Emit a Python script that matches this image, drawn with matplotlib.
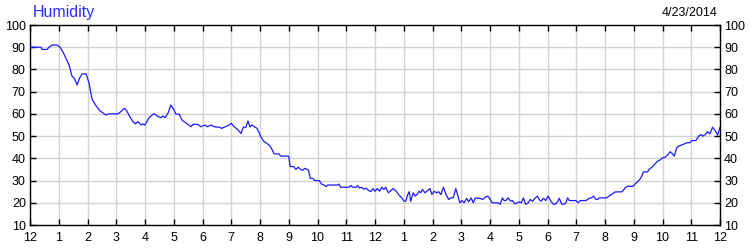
import matplotlib
matplotlib.use("Agg")
import matplotlib.pyplot as plt

# Hours since midnight and relative humidity (%)
hours = [0.0, 0.38, 0.42, 0.6, 0.66, 0.78, 0.93, 1.05, 1.16, 1.25, 1.36, 1.46, 1.54, 1.64, 1.72,
         1.81, 1.95, 2.05, 2.16, 2.28, 2.42, 2.64, 2.75, 3.05, 3.16, 3.28, 3.36, 3.46, 3.58, 3.67,
         3.75, 3.87, 3.93, 4.0,
         4.14, 4.31, 4.43, 4.55, 4.63, 4.7, 4.81, 4.9, 5.0, 5.07, 5.19, 5.3, 5.42, 5.6, 5.67,
         5.83, 5.94, 6.09, 6.17, 6.31, 6.4, 6.58, 6.67, 6.79, 6.93, 7.0, 7.08, 7.22, 7.34, 7.42,
         7.51, 7.58, 7.65, 7.72, 7.8, 7.9, 8.02,
         8.12, 8.24, 8.35, 8.43, 8.49, 8.66, 8.72, 9.0, 9.05, 9.17, 9.25, 9.33, 9.42, 9.48, 9.55,
         9.64, 9.68, 9.75, 9.83, 9.9, 10.06, 10.14, 10.23, 10.3, 10.36, 10.7, 10.75, 10.8, 11.1,
         11.16, 11.22, 11.34, 11.4, 11.46, 11.54, 11.6, 11.69, 11.75, 11.85, 11.93, 12.0,
         12.08, 12.16, 12.23, 12.31, 12.37, 12.47, 12.55, 12.63, 12.74, 12.84, 12.93, 13.01,
         13.07, 13.13, 13.19, 13.24, 13.33, 13.4, 13.48, 13.53, 13.59, 13.65, 13.74, 13.83,
         13.91, 13.98, 14.06, 14.14, 14.21, 14.29, 14.38, 14.47, 14.56, 14.64, 14.72, 14.81,
         14.87, 14.95, 15.02, 15.1, 15.19, 15.26, 15.34, 15.42, 15.49, 15.57, 15.65, 15.74,
         15.84, 15.92, 15.98, 16.07,
         16.15, 16.28, 16.35, 16.43, 16.49, 16.55, 16.63, 16.72, 16.78, 16.86, 16.95, 17.01,
         17.09, 17.16, 17.24, 17.33, 17.4, 17.48, 17.56, 17.65, 17.71, 17.77, 17.86, 17.94,
         18.02, 18.12, 18.21, 18.29, 18.37, 18.41, 18.49, 18.56, 18.64, 18.7, 18.76, 18.99,
         19.07, 19.14, 19.34, 19.45, 19.53, 19.6, 19.69, 19.74, 19.8, 19.98,
         20.05, 20.14, 20.26, 20.35, 20.58, 20.63, 20.7, 20.78, 20.98, 21.05, 21.13, 21.21,
         21.28, 21.33, 21.48, 21.53, 21.63, 21.67, 21.74, 21.83, 21.91, 21.98, 22.09, 22.17,
         22.27, 22.35, 22.41, 22.49, 22.56, 22.67, 22.76, 22.84, 22.95, 23.02, 23.16, 23.26,
         23.34, 23.4, 23.49, 23.57, 23.65, 23.74, 23.8, 23.86, 23.92, 24.0]

humidity = [90, 90, 89, 89, 90, 91, 91, 90, 87.5, 85, 82, 77, 76, 73, 76,
            78, 78, 74, 66.5, 64, 61.5, 59.5, 60, 60, 61, 62.5, 61.5, 59, 56.5, 55.5,
            56.5, 55, 55.5, 55,
            58.3, 60.1, 59, 58.3, 59, 58.3, 60.6, 64, 62, 60, 59.8, 57, 56, 54.2, 55.3,
            55.3, 54.2, 55, 54.2, 55, 54.2, 54, 53.5, 54.2, 55, 55.8, 54.5, 53, 51.2, 54,
            54, 56.8, 54.2, 55, 54.2, 53.5, 50,
            47.8, 46.7, 45.5, 43.7, 42, 42, 41, 41, 36.3, 36.3, 35, 36, 35, 34.5, 35.5,
            35, 34.8, 31, 31, 30, 30, 28.4, 28, 27.3, 28, 28, 28.4, 27, 27,
            27.8, 27, 27, 27.8, 26.6, 27, 26.1, 26.6, 25.8, 25, 26.4, 25.2,
            26.4, 25.2, 27, 26, 27, 24.5, 25.5, 26.4, 25.2, 23.4, 22.2, 20.7,
            20.7, 23.4, 25, 20.7, 24.5, 23, 24, 25.2, 24.5, 26, 24.5, 25.5,
            26.4, 23.7, 25.2, 24.5, 25, 23.7, 27, 23.7, 21.5, 22.2, 22.2, 26.4,
            23.7, 20, 21, 20, 22, 20.4, 22.2, 20, 22.2, 22, 22, 21.5,
            22.5, 23, 22.2, 20,
            20, 20, 19.3, 22.2, 21, 21, 22.2, 20.7, 21, 19.5, 20, 20.4,
            20, 22.2, 19.3, 20, 21.5, 20.7, 22, 23, 21.5, 20.7, 22, 21,
            23, 20.7, 19.3, 19.5, 21, 22, 19.5, 19.3, 20, 22.2, 21, 21,
            20, 21, 21, 22, 22.2, 23, 21.5, 21.5, 22.2, 22.2,
            22.2, 23, 24, 24.9, 24.9, 25.5, 26.7, 27.4, 27.4, 28.5, 29.4, 30.5,
            32, 33.9, 33.9, 35, 36, 36.5, 37.5, 38.7, 39.2, 40, 40.5, 41.4,
            43, 42, 41, 44.7, 45.5, 46, 46.5, 47, 47, 48, 48, 50,
            50.7, 50, 50.7, 52, 51, 54, 53, 52, 50.4, 54]

x_ticks = list(range(0, 25))
x_labels = ["12"] + [str(h) for h in range(1, 12)] + ["12"] + [str(h) for h in range(1, 12)] + ["12"]
y_ticks = [10, 20, 30, 40, 50, 60, 70, 80, 90, 100]

title = "Humidity"
date_label = "4/23/2014"

plt.rcParams['font.family'] = ['Liberation Sans', 'DejaVu Sans']

fig = plt.figure(figsize=(7.5, 2.5), dpi=100)
ax = fig.add_axes([30 / 750, 25 / 250, 690 / 750, 200 / 250])

ax.plot(hours, humidity, color='#1a1aff', lw=0.9, zorder=3)

ax.set_xlim(0, 24)
ax.set_ylim(10, 100)
ax.set_xticks(x_ticks)
ax.set_xticklabels(x_labels)
ax.set_yticks(y_ticks)
ax.grid(True, color='#d3d3d3', lw=1.0)
ax.set_axisbelow(True)

for s in ax.spines.values():
    s.set_color('black')
    s.set_linewidth(1.0)

ax.tick_params(axis='x', which='both', direction='in', length=4, width=1,
               top=True, bottom=True, labelsize=9, pad=5, colors='black')
ax.tick_params(axis='y', which='both', direction='in', length=4, width=1,
               left=True, right=True, labelleft=True, labelright=True,
               labelsize=9, pad=3, colors='black')

fig.text(33 / 750, 1 - 12 / 250, title, color='#2b2bff', fontsize=11.5,
         ha='left', va='center')
fig.text(718 / 750, 1 - 13 / 250, date_label, color='black', fontsize=9,
         ha='right', va='center')

fig.savefig("out.png", dpi=100)
